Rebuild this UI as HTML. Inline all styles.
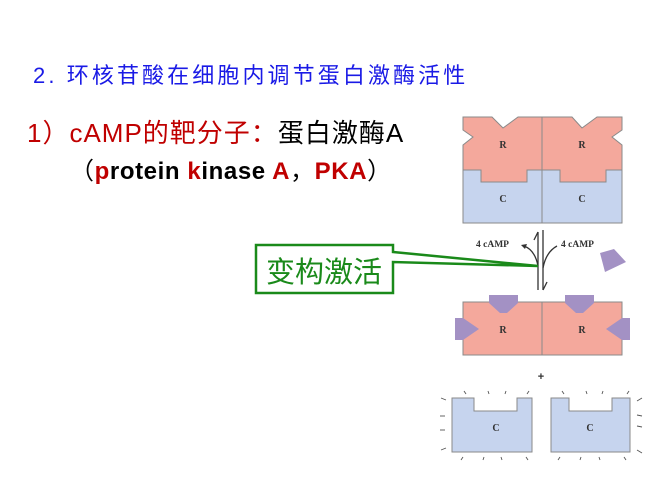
<!DOCTYPE html>
<html><head><meta charset="utf-8"><style>
html,body{margin:0;padding:0;background:#fff;width:660px;height:480px;overflow:hidden}
svg{display:block}
</style></head><body>
<svg width="660" height="480" viewBox="0 0 660 480" xmlns="http://www.w3.org/2000/svg">
<text x="33" y="83" font-family="Liberation Sans, Noto Sans CJK SC, sans-serif" font-size="22" letter-spacing="3.1" fill="#1a1ae6">2. 环核苷酸在细胞内调节蛋白激酶活性</text>
<text x="27" y="142" font-family="Liberation Sans, Noto Sans CJK SC, sans-serif" font-size="26" letter-spacing="1" fill="#c00000">1）cAMP的靶分子：<tspan fill="#000">蛋白激酶A</tspan></text>
<text x="70" y="179" font-family="Liberation Sans, Noto Sans CJK SC, sans-serif" font-size="24" letter-spacing="0.6" fill="#000">（<tspan font-weight="bold" fill="#c00000">p</tspan><tspan font-weight="bold">rotein </tspan><tspan font-weight="bold" fill="#c00000">k</tspan><tspan font-weight="bold">inase </tspan><tspan font-weight="bold" fill="#c00000">A</tspan>，<tspan font-weight="bold" fill="#c00000">PKA</tspan>）</text>

<!-- top complex -->
<g stroke="#8a8a8a" stroke-width="1">
<rect x="463" y="170" width="159" height="53" fill="#c6d4ee"/>
<path d="M463,117 L492,117 L503,128 L518,117 L542,117 L542,170 L527,170 L527,182 L481,182 L481,170 L463,170 L463,145 L473,137 L463,130 Z" fill="#f4a89c"/>
<path d="M542,117 L572,117 L582,128 L597,117 L622,117 L622,130 L612,137 L622,145 L622,170 L606,170 L606,182 L560,182 L560,170 L542,170 Z" fill="#f4a89c"/>
<line x1="542" y1="117" x2="542" y2="223"/>
</g>
<g font-family="Liberation Serif, serif" font-weight="bold" font-size="10" fill="#333" text-anchor="middle">
<text x="503" y="148">R</text><text x="582" y="148">R</text>
<text x="503" y="202">C</text><text x="582" y="202">C</text>
</g>

<!-- arrows -->
<g stroke="#333" stroke-width="1.3" fill="none">
<line x1="538" y1="232" x2="538" y2="290"/>
<path d="M538,232 L534,240"/>
<line x1="543" y1="230" x2="543" y2="290"/>
<path d="M543,290 L547,282"/>
<path d="M538,266 Q535,250 524,246"/>
<path d="M543,268 Q546,252 557,246"/>
</g>
<path d="M521,245 L527,244 L525,249 Z" fill="#333"/>
<g font-family="Liberation Serif, serif" font-weight="bold" font-size="9.5" fill="#333">
<text x="476" y="247">4 cAMP</text><text x="561" y="247">4 cAMP</text>
</g>
<path d="M600,253 L614,249 L626,262 L605,272 Z" fill="#a391c4"/>

<!-- callout -->
<path d="M256,245 L393,245 L393,252 L538,266 L393,262 L393,293 L256,293 Z" fill="#fff" stroke="#1a8a1a" stroke-width="2.5"/>
<text x="266" y="282" font-family="Noto Sans CJK SC, sans-serif" font-size="29" fill="#1a8a1a">变构激活</text>

<!-- R with cAMP -->
<g stroke="#8a8a8a" stroke-width="1">
<rect x="463" y="302" width="159" height="53" fill="#f4a89c"/>
<line x1="542" y1="302" x2="542" y2="355"/>
</g>
<g fill="#a391c4">
<path d="M489,295 L518,295 L518,303 L507,313 L500,313 L489,303 Z"/>
<path d="M565,295 L594,295 L594,303 L583,313 L576,313 L565,303 Z"/>
<path d="M455,318 L463,318 L479,329 L463,340 L455,340 Z"/>
<path d="M630,318 L622,318 L606,329 L622,340 L630,340 Z"/>
</g>
<g font-family="Liberation Serif, serif" font-weight="bold" font-size="10" fill="#333" text-anchor="middle">
<text x="503" y="333">R</text><text x="582" y="333">R</text>
</g>
<text x="541" y="380" font-family="Liberation Sans, sans-serif" font-weight="bold" font-size="11" fill="#333" text-anchor="middle">+</text>

<!-- free C -->
<g stroke="#8a8a8a" stroke-width="1" fill="#c6d4ee">
<path d="M452,398 L474,398 L474,411 L517,411 L517,398 L532,398 L532,452 L452,452 Z"/>
<path d="M551,398 L569,398 L569,411 L612,411 L612,398 L630,398 L630,452 L551,452 Z"/>
</g>
<g font-family="Liberation Serif, serif" font-weight="bold" font-size="10" fill="#333" text-anchor="middle">
<text x="496" y="431">C</text><text x="590" y="431">C</text>
</g>
<g stroke="#555" stroke-width="0.9">
<line x1="464" y1="391" x2="466" y2="394"/><line x1="488" y1="391" x2="489" y2="394"/><line x1="506" y1="391" x2="505" y2="394"/><line x1="529" y1="391" x2="527" y2="394"/>
<line x1="441" y1="398" x2="446" y2="400"/><line x1="440" y1="416" x2="445" y2="416"/><line x1="440" y1="430" x2="445" y2="430"/><line x1="441" y1="450" x2="446" y2="448"/>
<line x1="461" y1="460" x2="463" y2="457"/><line x1="483" y1="460" x2="484" y2="457"/><line x1="502" y1="460" x2="501" y2="457"/><line x1="528" y1="460" x2="526" y2="457"/>
<line x1="562" y1="391" x2="564" y2="394"/><line x1="586" y1="391" x2="587" y2="394"/><line x1="603" y1="391" x2="602" y2="394"/><line x1="629" y1="391" x2="627" y2="394"/>
<line x1="637" y1="401" x2="642" y2="398"/><line x1="637" y1="415" x2="642" y2="416"/><line x1="637" y1="426" x2="642" y2="427"/><line x1="637" y1="450" x2="642" y2="453"/>
<line x1="558" y1="460" x2="560" y2="457"/><line x1="580" y1="460" x2="581" y2="457"/><line x1="600" y1="460" x2="599" y2="457"/><line x1="626" y1="460" x2="624" y2="457"/>
</g>
</svg>
</body></html>
